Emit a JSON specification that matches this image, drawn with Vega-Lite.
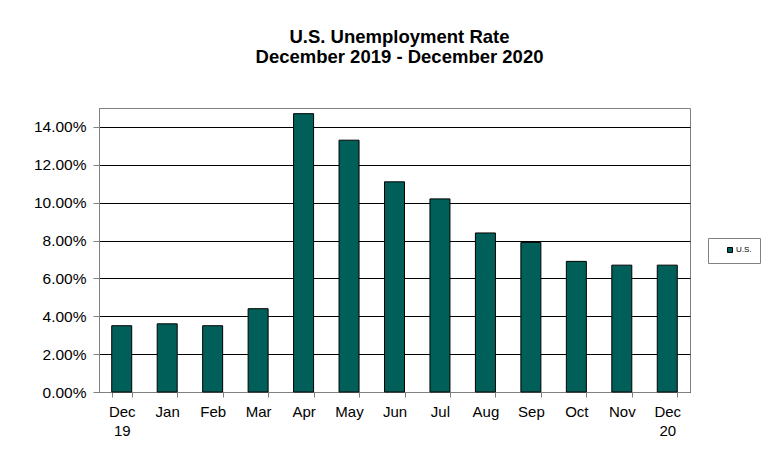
{
  "$schema": "https://vega.github.io/schema/vega-lite/v6.json",
  "autosize": "none",
  "width": 591,
  "height": 284,
  "padding": {"left": 99, "top": 108, "right": 90, "bottom": 71},
  "background": "white",
  "title": {
    "text": ["U.S. Unemployment Rate", "December 2019 - December 2020"],
    "font": "Liberation Sans",
    "fontSize": 18.5,
    "fontWeight": "bold",
    "color": "black",
    "lineHeight": 20,
    "anchor": "middle",
    "dx": 5,
    "offset": 42
  },
  "data": {
    "values": [
      {"month": "Dec 19", "series": "U.S.", "rate": 0.035},
      {"month": "Jan", "series": "U.S.", "rate": 0.036},
      {"month": "Feb", "series": "U.S.", "rate": 0.035},
      {"month": "Mar", "series": "U.S.", "rate": 0.044},
      {"month": "Apr", "series": "U.S.", "rate": 0.147},
      {"month": "May", "series": "U.S.", "rate": 0.133},
      {"month": "Jun", "series": "U.S.", "rate": 0.111},
      {"month": "Jul", "series": "U.S.", "rate": 0.102},
      {"month": "Aug", "series": "U.S.", "rate": 0.084},
      {"month": "Sep", "series": "U.S.", "rate": 0.079},
      {"month": "Oct", "series": "U.S.", "rate": 0.069},
      {"month": "Nov", "series": "U.S.", "rate": 0.067},
      {"month": "Dec 20", "series": "U.S.", "rate": 0.067}
    ]
  },
  "mark": {"type": "bar", "stroke": "black", "strokeWidth": 1},
  "encoding": {
    "x": {
      "field": "month",
      "type": "nominal",
      "sort": null,
      "scale": {"paddingInner": 0.56, "paddingOuter": 0.28},
      "axis": {
        "title": null,
        "labelAngle": 0,
        "labelExpr": "isValid(datum.value) ? split(datum.value, ' ') : ''",
        "labelFont": "Liberation Sans",
        "labelFontSize": 15,
        "labelColor": "black",
        "labelLineHeight": 19,
        "labelPadding": 7,
        "tickBand": "extent",
        "tickColor": "#808080",
        "tickSize": 5,
        "domainColor": "#808080"
      }
    },
    "y": {
      "field": "rate",
      "type": "quantitative",
      "scale": {"domain": [0, 0.15], "nice": false},
      "axis": {
        "title": null,
        "values": [0, 0.02, 0.04, 0.06, 0.08, 0.1, 0.12, 0.14],
        "format": ".2%",
        "labelFont": "Liberation Sans",
        "labelFontSize": 15.5,
        "labelColor": "black",
        "labelPadding": 7,
        "tickColor": "#808080",
        "tickSize": 6,
        "domainColor": "#808080",
        "grid": true,
        "gridColor": "black",
        "gridWidth": 1
      }
    },
    "fill": {
      "field": "series",
      "type": "nominal",
      "scale": {"range": ["#006059"]},
      "legend": {
        "title": null,
        "orient": "none",
        "legendX": 609,
        "legendY": 130,
        "symbolType": "square",
        "symbolSize": 25,
        "symbolOffset": 10,
        "symbolStrokeColor": "black",
        "symbolStrokeWidth": 1,
        "labelFont": "Liberation Sans",
        "labelFontSize": 8,
        "labelColor": "black",
        "labelOffset": 2,
        "strokeColor": "#808080",
        "padding": 8,
        "cornerRadius": 0
      }
    }
  },
  "config": {
    "view": {"stroke": "#808080", "strokeWidth": 1}
  }
}
